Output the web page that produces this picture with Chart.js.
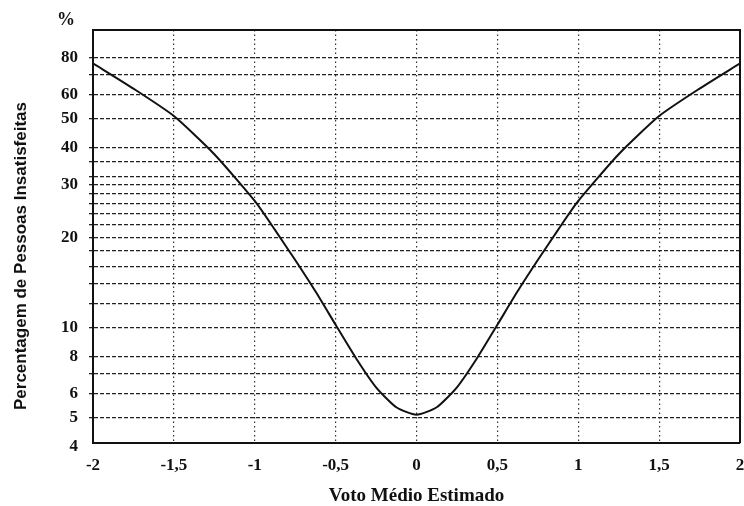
<!DOCTYPE html>
<html>
<head>
<meta charset="utf-8">
<script src="https://cdn.jsdelivr.net/npm/chart.js@4/dist/chart.umd.min.js"></script>
<style>
  html, body { margin: 0; padding: 0; background: #fff; }
  #wrap { width: 744px; height: 506px; position: relative; }
</style>
</head>
<body>
<div id="wrap"><canvas id="ppdChart"></canvas></div>
<script>
// PMV (voto medio estimado) vs PPD (% insatisfeitos)
const pmv = [-2, -1.75, -1.5, -1.25, -1, -0.875, -0.75, -0.625, -0.5, -0.375, -0.25, -0.125, 0,
             0.125, 0.25, 0.375, 0.5, 0.625, 0.75, 0.875, 1, 1.25, 1.5, 1.75, 2];
const ppd = [76.5, 63, 51, 38, 26.5, 21.2, 16.8, 13.2, 10.2, 7.9, 6.3, 5.4, 5.1,
             5.4, 6.3, 7.9, 10.2, 13.2, 16.8, 21.2, 26.5, 38, 51, 63, 76.5];

const xTicks = [-2, -1.5, -1, -0.5, 0, 0.5, 1, 1.5, 2];
const yGridValues = [4, 5, 6, 7, 8, 10, 12, 14, 16, 18, 20, 22, 24, 26, 28, 30, 32, 36, 40, 50, 60, 70, 80];
const yTickLabels = [4, 5, 6, 8, 10, 20, 30, 40, 50, 60, 80];

const serif = "'Liberation Serif', 'Times New Roman', serif";
const narrow = "'Liberation Sans Narrow', 'Arial Narrow', 'Liberation Sans', sans-serif";
const ink = "#111";

// top/right frame, "%" mark and the rotated y title
const framePlugin = {
  id: "frame",
  afterDraw(chart) {
    const { ctx, chartArea: a } = chart;
    ctx.save();
    ctx.strokeStyle = ink;
    ctx.lineWidth = 2;
    ctx.beginPath();
    ctx.moveTo(a.left, a.top);
    ctx.lineTo(a.right, a.top);
    ctx.lineTo(a.right, a.bottom);
    ctx.stroke();

    ctx.fillStyle = ink;
    ctx.font = "bold 18px " + serif;
    ctx.textAlign = "center";
    ctx.textBaseline = "middle";
    ctx.fillText("%", 66, 20);

    ctx.translate(21, 256);
    ctx.rotate(-Math.PI / 2);
    ctx.font = "bold 17px " + narrow;
    ctx.fillText("Percentagem de Pessoas Insatisfeitas", 0, 0);
    ctx.restore();
  }
};

new Chart(document.getElementById("ppdChart"), {
  type: "line",
  data: {
    datasets: [{
      data: pmv.map((x, i) => ({ x: x, y: ppd[i] })),
      borderColor: ink,
      borderWidth: 2,
      pointRadius: 0,
      tension: 0.2,
      fill: false
    }]
  },
  options: {
    responsive: true,
    maintainAspectRatio: false,
    devicePixelRatio: 1,
    animation: false,
    layout: { padding: { top: 30, right: 4, left: 0, bottom: 0 } },
    plugins: { legend: { display: false }, tooltip: { enabled: false } },
    scales: {
      x: {
        type: "linear",
        min: -2,
        max: 2,
        afterBuildTicks: (scale) => { scale.ticks = xTicks.map(v => ({ value: v })); },
        afterFit: (scale) => { scale.height = 63; scale.paddingLeft = 0; scale.paddingRight = 0; },
        ticks: {
          color: ink,
          padding: 12,
          font: { family: serif, size: 17, weight: "bold" },
          callback: (v) => String(v).replace(".", ",")
        },
        grid: {
          drawTicks: false,
          color: (c) => (c.tick && (c.tick.value === -2 || c.tick.value === 2)) ? "rgba(0,0,0,0)" : "#333",
          lineWidth: 1.2
        },
        border: { display: true, color: ink, width: 2, dash: [1.5, 3] },
        title: {
          display: true,
          text: "Voto Médio Estimado",
          color: ink,
          padding: { top: 0, bottom: 0 },
          font: { family: serif, size: 19, weight: "bold", lineHeight: 1 }
        }
      },
      y: {
        type: "logarithmic",
        min: 4.1,
        max: 99,
        afterBuildTicks: (scale) => { scale.ticks = yGridValues.map(v => ({ value: v })); },
        afterFit: (scale) => { scale.width = 93; },
        ticks: {
          color: ink,
          padding: 11,
          autoSkip: false,
          font: { family: serif, size: 17, weight: "bold" },
          callback: (v) => yTickLabels.includes(v) ? String(v) : ""
        },
        grid: {
          tickLength: 4,
          color: (c) => (c.tick && c.tick.value === 4) ? "rgba(0,0,0,0)" : "#222",
          tickColor: (c) => (c.tick && c.tick.value === 4) ? "rgba(0,0,0,0)" : "#222",
          lineWidth: 1.3
        },
        border: { display: true, color: ink, width: 2, dash: [4, 2] },
        title: { display: false }
      }
    }
  },
  plugins: [framePlugin]
});
</script>
</body>
</html>
